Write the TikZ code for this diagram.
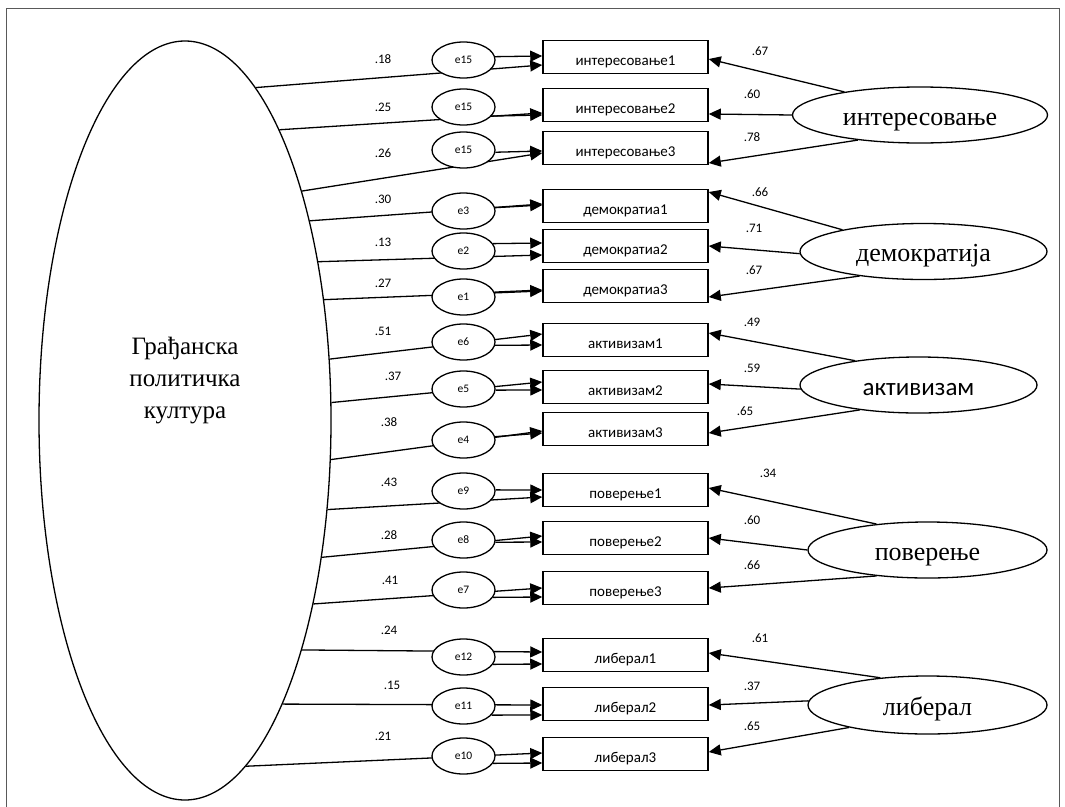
\documentclass[tikz,border=0pt]{standalone}
\usepackage{fontspec}
\setmainfont{Liberation Serif}
\newfontfamily\calib{Carlito}
\usetikzlibrary{shapes.geometric,arrows.meta}

\tikzset{
  obs/.style={draw, line width=1.5pt, rectangle, minimum width=165pt, minimum height=33pt, inner sep=0pt,
    font=\calib\fontsize{15}{15}\selectfont, text height=16pt, text depth=0pt},
  err/.style={draw, ellipse, fill=white, line width=1.3pt, minimum width=63pt, minimum height=36pt, inner sep=0pt,
    font=\calib\fontsize{11.5}{12}\selectfont},
  lat/.style={draw, ellipse, line width=1.3pt, minimum height=56pt, inner sep=0pt,
    font=\fontsize{26}{26}\selectfont, text height=20pt, text depth=0pt},
  load/.style={inner sep=0pt, font=\calib\fontsize{13}{13}\selectfont},
  link/.style={line width=1.3pt},
  arr/.style={line width=1.3pt, -{Triangle[length=12pt,width=11pt]}}
}

\begin{document}
\begin{tikzpicture}[x=1pt, y=-1pt]
      \useasboundingbox (0,0) rectangle (1065,806);
      \draw[line width=1pt, gray!70!black] (6,812) -- (6,8) -- (1059,8) -- (1059,812);

      % opsti faktor
      \node[draw, ellipse, line width=1.3pt, minimum width=292pt, minimum height=759pt, inner sep=0pt] (gpk) at (185,420.5) {};
      \node[align=center, font=\fontsize{25}{32}\selectfont] (gpktext) at (185,381) {Грађанска\\политичка\\култура};

      % indikatori
      \node[obs] (int1) at (625.5,57) {интересовање1};
      \node[obs] (int2) at (625.5,105) {интересовање2};
      \node[obs] (int3) at (625.5,148) {интересовање3};
      \node[obs] (dem1) at (625.5,206) {демократиа1};
      \node[obs] (dem2) at (625.5,246) {демократиа2};
      \node[obs] (dem3) at (625.5,286) {демократиа3};
      \node[obs] (akt1) at (625.5,340) {активизам1};
      \node[obs] (akt2) at (625.5,387) {активизам2};
      \node[obs] (akt3) at (625.5,429) {активизам3};
      \node[obs] (pov1) at (625.5,490) {поверење1};
      \node[obs] (pov2) at (625.5,538) {поверење2};
      \node[obs] (pov3) at (625.5,588) {поверење3};
      \node[obs] (lib1) at (625.5,655) {либерал1};
      \node[obs] (lib2) at (625.5,704) {либерал2};
      \node[obs] (lib3) at (625.5,754) {либерал3};

      % linije od opsteg faktora
      \draw[arr] (gpk.78) -- ([yshift=-8pt]int1.west);
      \draw[arr] (gpk.72) -- ([yshift=-8pt]int2.west);
      \draw[arr] (gpk.63) -- ([yshift=-5pt]int3.west);
      \draw[arr] (gpk.58) -- ([yshift=2pt]dem1.west);
      \draw[arr] (gpk.50) -- ([yshift=-9pt]dem2.west);
      \draw[arr] (gpk.41) -- ([yshift=-5pt]dem3.west);
      \draw[arr] (gpk.23) -- ([yshift=6pt]akt1.west);
      \draw[arr] (gpk.7) -- ([yshift=5pt]akt2.west);
      \draw[arr] (gpk.-15) -- ([yshift=-2pt]akt3.west);
      \draw[arr] (gpk.-32) -- ([yshift=-7pt]pov1.west);
      \draw[arr] (gpk.-45) -- ([yshift=2pt]pov2.west);
      \draw[arr] (gpk.-55) -- (pov3.west);
      \draw[arr] (gpk.-63) -- ([yshift=3pt]lib1.west);
      \draw[arr] (gpk.-71) -- ([yshift=-1pt]lib2.west);
      \draw[arr] (gpk.-80) -- ([yshift=1pt]lib3.west);

      % greske
      \node[err] (err1) at (463.5,60) {e15};
      \node[err] (err2) at (463.5,107) {e15};
      \node[err] (err3) at (463.5,150) {e15};
      \node[err] (err4) at (463.5,211) {e3};
      \node[err] (err5) at (463.5,251) {e2};
      \node[err] (err6) at (463.5,297) {e1};
      \node[err] (err7) at (463.5,342) {e6};
      \node[err] (err8) at (463.5,389) {e5};
      \node[err] (err9) at (463.5,440) {e4};
      \node[err] (err10) at (463.5,491) {e9};
      \node[err] (err11) at (463.5,540) {e8};
      \node[err] (err12) at (463.5,590) {e7};
      \node[err] (err13) at (463.5,657) {e12};
      \node[err] (err14) at (463.5,706) {e11};
      \node[err] (err15) at (463.5,756) {e10};

      \draw[arr] (err1.6) -- ([yshift=1pt]int1.west);
      \draw[arr] (err2.-18) -- ([yshift=-10pt]int2.west);
      \draw[arr] (err3.-4) -- ([yshift=-3pt]int3.west);
      \draw[arr] (err4.6) -- ([yshift=1pt]dem1.west);
      \draw[arr] (err5.14) -- ([yshift=3pt]dem2.west);
      \draw[arr] (err6.9) -- ([yshift=-4pt]dem3.west);
      \draw[arr] (err7.-6) -- ([yshift=-5pt]akt1.west);
      \draw[arr] (err8.-2) -- ([yshift=-3pt]akt2.west);
      \draw[arr] (err9.6) -- ([yshift=-4pt]akt3.west);
      \draw[arr] (err10.2) -- (pov1.west);
      \draw[arr] (err11.-4) -- ([yshift=-4pt]pov2.west);
      \draw[arr] (err12.-14) -- ([yshift=-9pt]pov3.west);
      \draw[arr] (err13.-14) -- ([yshift=-9pt]lib1.west);
      \draw[arr] (err14.-18) -- ([yshift=-11pt]lib2.west);
      \draw[arr] (err15.-14) -- ([yshift=-9pt]lib3.west);

      % latentni faktori
      \node[lat, minimum width=255pt] (intr) at (920,115) {интересовање};
      \node[lat, minimum width=247pt] (demo) at (923.5,251.5) {демократија};
      \node[lat, minimum width=237pt, font=\calib\fontsize{25}{25}\selectfont] (aktv) at (918.5,385) {активизам};
      \node[lat, minimum width=239pt] (povr) at (927.5,550) {поверење};
      \node[lat, minimum width=239pt, minimum height=58pt] (libr) at (927.5,705) {либерал};

      \draw[arr] (intr.163) -- ([yshift=-2pt]int1.east);
      \draw[arr] (intr.180) -- ([yshift=-9pt]int2.east);
      \draw[arr] (intr.202) -- ([yshift=-15pt]int3.east);
      \draw[arr] (demo.165) -- ([yshift=14pt]dem1.east);
      \draw[arr] (demo.181) -- (dem2.east);
      \draw[arr] (demo.201) -- ([yshift=-11pt]dem3.east);
      \draw[arr] (aktv.159) -- ([yshift=7pt]akt1.east);
      \draw[arr] (aktv.182) -- ([yshift=3pt]akt2.east);
      \draw[arr] (aktv.203) -- ([yshift=-4pt]akt3.east);
      \draw[arr] (povr.153) -- ([yshift=2pt]pov1.east);
      \draw[arr] (povr.180) -- (pov2.east);
      \draw[arr] (povr.207) -- (pov3.east);
      \draw[arr] (libr.150) -- ([yshift=2pt]lib1.east);
      \draw[arr] (libr.178) -- ([yshift=-1pt]lib2.east);
      \draw[arr] (libr.196) -- ([yshift=2pt]lib3.east);

      % tezine
      \node[load] (w1) at (383,59) {.18};
      \node[load] (w2) at (383,107) {.25};
      \node[load] (w3) at (383,153) {.26};
      \node[load] (w4) at (383,199) {.30};
      \node[load] (w5) at (383,242) {.13};
      \node[load] (w6) at (383,283) {.27};
      \node[load] (w7) at (383,331) {.51};
      \node[load] (w8) at (393,376) {.37};
      \node[load] (w9) at (389,422) {.38};
      \node[load] (w10) at (389,482) {.43};
      \node[load] (w11) at (389,535) {.28};
      \node[load] (w12) at (390,580) {.41};
      \node[load] (w13) at (389,630) {.24};
      \node[load] (w14) at (392,685) {.15};
      \node[load] (w15) at (383,736) {.21};

      \node[load] (v1) at (760,51) {.67};
      \node[load] (v2) at (752,94) {.60};
      \node[load] (v3) at (752,137) {.78};
      \node[load] (v4) at (760,192) {.66};
      \node[load] (v5) at (754,228) {.71};
      \node[load] (v6) at (754,270) {.67};
      \node[load] (v7) at (752,322) {.49};
      \node[load] (v8) at (752,368) {.59};
      \node[load] (v9) at (745,411) {.65};
      \node[load] (v10) at (768,473) {.34};
      \node[load] (v11) at (752,520) {.60};
      \node[load] (v12) at (752,565) {.66};
      \node[load] (v13) at (760,638) {.61};
      \node[load] (v14) at (752,686) {.37};
      \node[load] (v15) at (752,726) {.65};
    \end{tikzpicture}
\end{document}
